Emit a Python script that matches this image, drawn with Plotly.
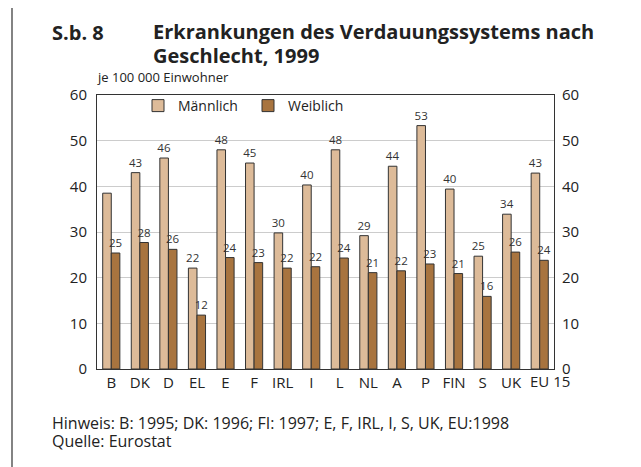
import plotly.graph_objects as go

categories = ["B", "DK", "D", "EL", "E", "F", "IRL", "I", "L", "NL", "A", "P", "FIN", "S", "UK", "EU 15"]
tick_labels = ["B", "DK", "D", "EL", "E", "F", "IRL", "I", "L", "NL", "A", "P", "FIN", "S", "UK", ""]
maennlich = [38.5, 43.0, 46.2, 22.1, 48.0, 45.1, 29.8, 40.3, 48.0, 29.2, 44.4, 53.3, 39.4, 24.7, 33.9, 42.9]
weiblich = [25.4, 27.7, 26.2, 11.8, 24.4, 23.3, 22.1, 22.4, 24.3, 21.1, 21.5, 23.0, 20.9, 15.9, 25.6, 23.8]
maennlich_labels = ["", "43", "46", "22", "48", "45", "30", "40", "48", "29", "44", "53", "40", "25", "34", "43"]
weiblich_labels = ["25", "28", "26", "12", "24", "23", "22", "22", "24", "21", "22", "23", "21", "16", "26", "24"]
y_ticks = [0, 10, 20, 30, 40, 50, 60]

FONT = "Open Sans"
TXT = "#222222"

# plot area in reference pixels: x 97..554, y 95..369 (page has an 8px body margin)
PW, PH = 457.0, 274.0
def px(x):
    return (x - 97) / PW
def py(y):
    return (369 - y) / PH

fig = go.Figure()
fig.add_trace(go.Bar(
    x=categories, y=maennlich, name="Männlich",
    marker=dict(color="#DDBB99", line=dict(color="#333333", width=1)),
    text=maennlich_labels, textposition="outside", cliponaxis=False,
    textfont=dict(family=FONT, size=11.5, color="#333333"),
    outsidetextfont=dict(family=FONT, size=11.5, color="#333333"),
))
fig.add_trace(go.Bar(
    x=categories, y=weiblich, name="Weiblich",
    marker=dict(color="#A8743F", line=dict(color="#333333", width=1)),
    text=weiblich_labels, textposition="outside", cliponaxis=False,
    textfont=dict(family=FONT, size=11.5, color="#333333"),
    outsidetextfont=dict(family=FONT, size=11.5, color="#333333"),
))
fig.add_trace(go.Scatter(
    x=categories, y=weiblich, yaxis="y2", mode="markers",
    marker=dict(opacity=0, size=1), showlegend=False, hoverinfo="skip",
))

fig.update_layout(
    width=641, height=467,
    margin=dict(l=89, r=95, t=87, b=106, autoexpand=False),
    paper_bgcolor="white", plot_bgcolor="white",
    barmode="group", bargap=0.4, bargroupgap=0,
    font=dict(family=FONT, size=13, color=TXT),
    uniformtext=dict(minsize=8, mode="show"),
    xaxis=dict(
        range=[-0.5, 15.5],
        showgrid=False, showline=True, linecolor="#333333", linewidth=1,
        mirror=True, ticks="", tickangle=0, automargin=False,
        tickvals=categories, ticktext=tick_labels,
        tickfont=dict(family=FONT, size=15, color=TXT),
        fixedrange=True,
    ),
    yaxis=dict(
        range=[0, 60], tickvals=y_ticks, showgrid=True, gridcolor="#CCCCCC",
        gridwidth=1, zeroline=False, showline=True, linecolor="#333333",
        linewidth=1, mirror=True, ticks="", automargin=False,
        ticklabelstandoff=6,
        tickfont=dict(family=FONT, size=15, color=TXT),
    ),
    yaxis2=dict(
        range=[0, 60], tickvals=y_ticks, overlaying="y", side="right",
        showgrid=False, zeroline=False, showline=False, ticks="",
        automargin=False, ticklabelstandoff=7,
        tickfont=dict(family=FONT, size=15, color=TXT),
    ),
    legend=dict(
        orientation="h", x=px(138), y=py(90), xanchor="left", yanchor="top",
        font=dict(family=FONT, size=14, color=TXT), bgcolor="rgba(0,0,0,0)",
        itemwidth=30, tracegroupgap=0, entrywidth=65,
    ),
    showlegend=True,
)

# Outer frame
fig.add_shape(type="path", xref="paper", yref="paper",
              path=f"M {px(12)},{py(480)} L {px(12)},{py(5)} L {px(638)},{py(5)} L {px(638)},{py(480)}",
              line=dict(color="#333333", width=1.2))

fig.add_annotation(text="EU 15", xref="x", yref="paper", x="EU 15", y=py(381),
                   xanchor="center", yanchor="middle", xshift=10, showarrow=False,
                   font=dict(family=FONT, size=15, color=TXT))
fig.add_annotation(text="<b>S.b. 8</b>", xref="paper", yref="paper",
                   x=px(50), y=py(32), xanchor="left", yanchor="middle",
                   showarrow=False, font=dict(family=FONT, size=20, color=TXT))
fig.add_annotation(text="<span style='font-size:20px'><b>Erkrankungen des Verdauungssystems nach</b></span><br>"
                        "<span style='font-size:20px'><b>Geschlecht, 1999</b></span>",
                   xref="paper", yref="paper", x=px(151), y=py(44),
                   xanchor="left", yanchor="middle", align="left", showarrow=False,
                   font=dict(family=FONT, size=18.5, color=TXT))
fig.add_annotation(text="je 100 000 Einwohner", xref="paper", yref="paper",
                   x=px(95), y=py(77), xanchor="left", yanchor="middle",
                   showarrow=False, font=dict(family=FONT, size=13, color=TXT))
fig.add_annotation(text="<span style='font-size:16px'>Hinweis: B: 1995; DK: 1996; FI: 1997; E, F, IRL, I, S, UK, EU:1998</span><br>"
                        "<span style='font-size:16px'>Quelle: Eurostat</span>",
                   xref="paper", yref="paper", x=px(50), y=py(432),
                   xanchor="left", yanchor="middle", align="left", showarrow=False,
                   font=dict(family=FONT, size=14, color=TXT))

fig.write_html("out.html")
